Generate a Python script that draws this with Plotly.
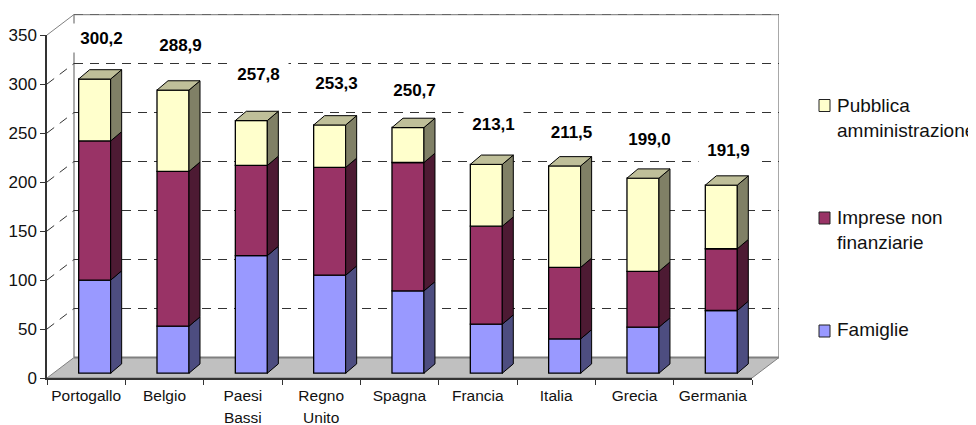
import numpy as np
import plotly.graph_objects as go

countries = ["Portogallo", "Belgio", "Paesi<br>Bassi", "Regno<br>Unito", "Spagna", "Francia", "Italia", "Grecia", "Germania"]
totals = [300.2, 288.9, 257.8, 253.3, 250.7, 213.1, 211.5, 199.0, 191.9]
total_labels = ["300,2", "288,9", "257,8", "253,3", "250,7", "213,1", "211,5", "199,0", "191,9"]
famiglie = [95, 48, 120, 100, 84, 50, 35, 47, 64]
imprese = [142, 158, 92, 110, 131, 100, 73, 57, 63]
pubblica = [63.2, 82.9, 45.8, 43.3, 35.7, 63.1, 103.5, 95.0, 64.9]
y_ticks = [0, 50, 100, 150, 200, 250, 300, 350]
# labels were placed by hand in the original, so they do not follow the bars evenly
label_lift = [42, 45.5, 48, 42.5, 38, 41, 35, 39.5, 35.5]

series_names = ["Famiglie", "Imprese non<br>finanziarie", "Pubblica<br>amministrazione"]
front_colors = ["#9999FF", "#993366", "#FFFFCC"]
side_colors = ["#4D4D80", "#4D1A33", "#808066"]
top_color = "#BFBF99"

# the page body has an 8px margin, so the figure is 8px smaller than the window
PAGE = 8
W, H = 976 - PAGE, 425 - PAGE
PX_X = 78.33  # pixels per category
PX_Y = 0.98  # pixels per unit of value
LEFT, RIGHT, TOP, BOTTOM = 47, 779, 14, 378


def ux(p):
    return p / PX_X


def uy(p):
    return p / PX_Y


def paper_x(p):
    return (p - PAGE) / W


def paper_y(p):
    return 1 - (p - PAGE) / H


idx = np.arange(len(countries))
x_end = len(countries) - 0.5
wall_dx, wall_dy = ux(27), uy(20.5)
side_dx, side_dy = ux(11), uy(9.3)
bar_half = ux(16)
bar_x = idx + ux(8.5)
floor_gap = uy(4.8)

fig = go.Figure()

# stacked front faces
base = np.full(len(countries), floor_gap)
for vals, name, col in zip([famiglie, imprese, pubblica], series_names, front_colors):
    fig.add_trace(go.Bar(x=bar_x, y=vals, base=base.copy(), width=bar_half * 2, name=name,
                         marker=dict(color=col, line=dict(color="black", width=1.3)), showlegend=False))
    base = base + np.array(vals)


# side faces, one polygon per bar
def side_polygons(bottoms, tops):
    xs, ys = [], []
    for x, b, t in zip(bar_x, bottoms, tops):
        xr = x + bar_half
        xs += [xr, xr + side_dx, xr + side_dx, xr, xr, None]
        ys += [b, b + side_dy, t + side_dy, t, b, None]
    return xs, ys


base = np.full(len(countries), floor_gap)
for vals, col in zip([famiglie, imprese, pubblica], side_colors):
    xs, ys = side_polygons(base, base + np.array(vals))
    fig.add_trace(go.Scatter(x=xs, y=ys, mode="lines", fill="toself", fillcolor=col,
                             line=dict(color="black", width=1), showlegend=False, hoverinfo="skip"))
    base = base + np.array(vals)

xs, ys = [], []
for x, t in zip(bar_x, base):
    xs += [x - bar_half, x - bar_half + side_dx, x + bar_half + side_dx, x + bar_half, x - bar_half, None]
    ys += [t, t + side_dy, t + side_dy, t, t, None]
fig.add_trace(go.Scatter(x=xs, y=ys, mode="lines", fill="toself", fillcolor=top_color,
                         line=dict(color="black", width=1), showlegend=False, hoverinfo="skip"))

# tick font is bigger than the text inside it, that gives the wider line spacing of the two line labels
tick_labels = ["<br>".join(f'<span style="font-size:15.5px">{part}</span>' for part in c.split("<br>"))
               for c in countries]

# only there so the tick axes get drawn
fig.add_trace(go.Scatter(x=tick_labels, y=[None] * len(countries), xaxis="x2", yaxis="y2",
                         showlegend=False, hoverinfo="skip"))

# floor and walls
x0 = -0.5
shapes = [dict(type="path", layer="below", xref="x", yref="y", fillcolor="#C0C0C0",
               line=dict(color="#808080", width=1),
               path=f"M{x0},0 L{x_end},0 L{x_end + wall_dx},{wall_dy} L{x0 + wall_dx},{wall_dy} Z")]
for wx in [x0 + wall_dx, x_end + wall_dx]:
    shapes.append(dict(type="line", layer="below", xref="x", yref="y", x0=wx, x1=wx, y0=wall_dy, y1=350 + wall_dy,
                       line=dict(color="#909090", width=1.5)))
shapes.append(dict(type="line", layer="below", xref="x", yref="y", x0=x0 + wall_dx, x1=x_end + wall_dx,
                   y0=350 + wall_dy, y1=350 + wall_dy, line=dict(color="#909090", width=1.5)))
shapes.append(dict(type="line", layer="below", xref="x", yref="y", x0=x0, x1=x0 + wall_dx,
                   y0=350, y1=350 + wall_dy, line=dict(color="#808080", width=1)))
shapes.append(dict(type="line", layer="below", xref="x", yref="y", x0=x0 + wall_dx, x1=x_end + wall_dx,
                   y0=wall_dy, y1=wall_dy, line=dict(color="#808080", width=2)))
for v in y_ticks:
    if v == 0:
        continue
    col = "#666666" if v == 350 else "#333333"
    shapes.append(dict(type="line", layer="below", xref="x", yref="y", x0=x0 + wall_dx, x1=x_end + wall_dx,
                       y0=v + wall_dy, y1=v + wall_dy, line=dict(color=col, width=1, dash="9px,7px")))
    if v < 350:
        shapes.append(dict(type="line", layer="below", xref="x", yref="y", x0=x0, x1=x0 + wall_dx,
                           y0=v, y1=v + wall_dy, line=dict(color="#333333", width=1, dash="9px,7px")))

# value labels on top, white box hides the grid behind them
annotations = []
for x, t, txt, lift in zip(bar_x, totals, total_labels, label_lift):
    annotations.append(dict(x=x + ux(7), y=t + floor_gap + lift, xref="x", yref="y", text=f"<b>{txt}</b>",
                            showarrow=False, xanchor="center", yanchor="middle", width=57, height=26,
                            bgcolor="white", font=dict(family="Liberation Sans", size=17, color="black")))

# legend
legend_rows = [(2, 99.5, 117.7), (1, 212, 229.5), (0, 325, 329.5)]
for i, sy, ty in legend_rows:
    shapes.append(dict(type="rect", xref="paper", yref="paper", x0=paper_x(819), x1=paper_x(830),
                       y0=paper_y(sy), y1=paper_y(sy + 12), fillcolor=front_colors[i],
                       line=dict(color="#222222", width=1)))
    annotations.append(dict(x=paper_x(836), y=paper_y(ty), xref="paper", yref="paper", text=series_names[i],
                            showarrow=False, xanchor="left", xshift=-1, yanchor="middle", align="left",
                            font=dict(family="Liberation Sans", size=19, color="#111111")))

fig.update_layout(
    width=W, height=H, margin=dict(l=0, r=0, t=0, b=0, pad=0),
    paper_bgcolor="white", plot_bgcolor="rgba(0,0,0,0)",
    barmode="overlay", showlegend=False,
    font=dict(family="Liberation Sans", color="#111111"),
    shapes=shapes, annotations=annotations,
    xaxis=dict(domain=[paper_x(LEFT), paper_x(RIGHT)], range=[x0, x0 + ux(RIGHT - LEFT)], visible=False,
               automargin=False),
    yaxis=dict(domain=[paper_y(BOTTOM), paper_y(TOP)], range=[0, uy(BOTTOM - TOP)], visible=False,
               automargin=False),
    xaxis2=dict(domain=[paper_x(LEFT), paper_x(752)], anchor="y2", type="category",
                categoryorder="array", categoryarray=tick_labels, range=[-0.5, 8.5], tickson="boundaries",
                ticks="outside", ticklen=5, tickcolor="#333333", tickwidth=1, tickangle=0, automargin=False,
                showline=True, linecolor="#333333", linewidth=1.5, showgrid=False,
                tickfont=dict(size=17), ticklabelstandoff=1),
    yaxis2=dict(domain=[paper_y(BOTTOM), paper_y(35)], anchor="x2", range=[0, 350], automargin=False,
                tickvals=y_ticks, ticks="outside", ticklen=5, tickcolor="#333333", tickwidth=1,
                showline=True, linecolor="#333333", linewidth=1.5, showgrid=False, zeroline=False,
                tickfont=dict(size=17)),
)

fig.write_html("out.html")
